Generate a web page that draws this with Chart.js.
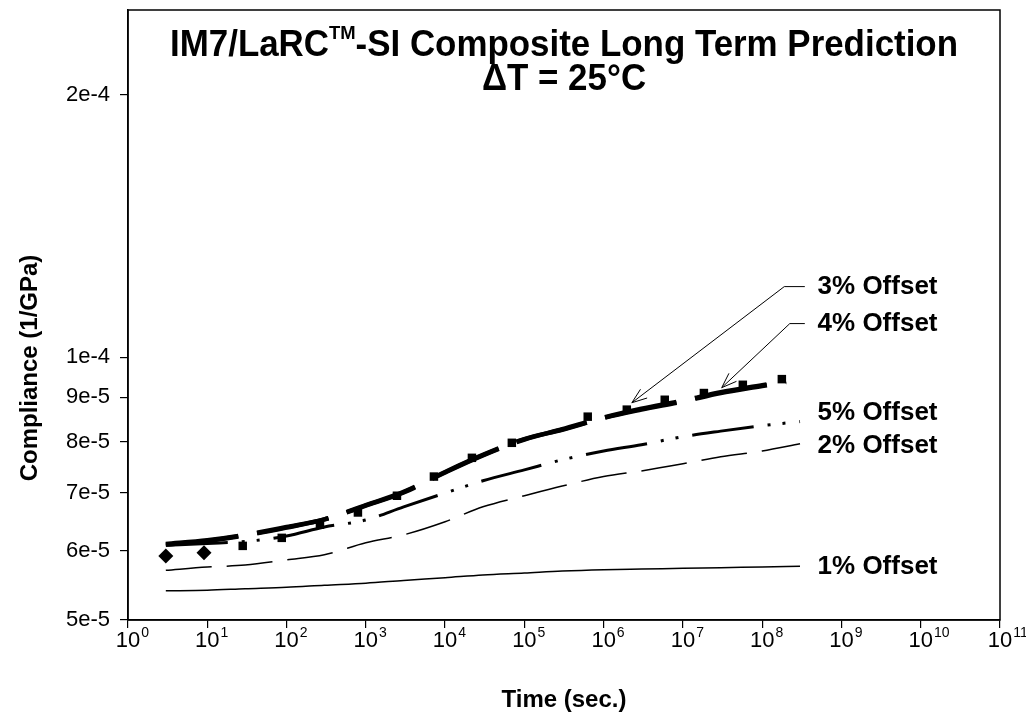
<!DOCTYPE html>
<html>
<head>
<meta charset="utf-8">
<script src="https://cdn.jsdelivr.net/npm/chart.js@4.4.1/dist/chart.umd.min.js"></script>
<style>
  html, body { margin: 0; padding: 0; background: #fff; }
</style>
</head>
<body>
<canvas id="c" width="1026" height="718"></canvas>
<script>
// values are in units of 1e-5 1/GPa
const UNIT = 1e-5;
const times = [3, 10, 30, 100, 300, 1e3, 3e3, 1e4, 3e4, 1e5, 3e5, 1e6, 3e6, 1e7, 3e7, 1e8, 3e8];
const times34 = [3, 10, 30, 100, 300, 1e3, 3e3, 1e4, 3e4, 1e5, 3e5, 1e6, 3e6, 1e7, 3e7, 1e8, 2e8];
const offset1 = [5.40, 5.41, 5.43, 5.45, 5.48, 5.51, 5.55, 5.59, 5.63, 5.66, 5.69, 5.71, 5.72, 5.73, 5.74, 5.75, 5.76];
const offset2 = [5.70, 5.75, 5.78, 5.86, 5.94, 6.13, 6.26, 6.48, 6.74, 6.94, 7.12, 7.30, 7.41, 7.55, 7.69, 7.81, 7.96];
const offset3 = [6.11, 6.17, 6.26, 6.39, 6.52, 6.77, 7.01, 7.39, 7.73, 8.06, 8.26, 8.52, 8.71, 8.90, 9.10, 9.27, 9.37];
const offset4 = [6.10, 6.16, 6.25, 6.38, 6.52, 6.76, 7.00, 7.38, 7.72, 8.05, 8.27, 8.53, 8.73, 8.92, 9.12, 9.29, 9.39];
const offset5 = [6.09, 6.12, 6.15, 6.24, 6.39, 6.51, 6.74, 6.99, 7.22, 7.43, 7.63, 7.81, 7.94, 8.11, 8.23, 8.35, 8.44];

// test points (first two diamonds, rest squares)
const testTimes = [3.0, 9.1, 28, 87, 264, 795, 2470, 7230, 21800, 69500, 6.3e5, 1.96e6, 5.9e6, 1.84e7, 5.7e7, 1.77e8];
const testValues = [5.92, 5.97, 6.08, 6.21, 6.43, 6.64, 6.94, 7.30, 7.67, 7.98, 8.55, 8.71, 8.94, 9.10, 9.30, 9.44];

const xTicks = [1, 1e1, 1e2, 1e3, 1e4, 1e5, 1e6, 1e7, 1e8, 1e9, 1e10, 1e11];
const yTicks = [5e-5, 6e-5, 7e-5, 8e-5, 9e-5, 1e-4, 2e-4];
const yTickLabels = ['5e-5', '6e-5', '7e-5', '8e-5', '9e-5', '1e-4', '2e-4'];

const titleMain = 'IM7/LaRC';
const titleSup = 'TM';
const titleRest = '-SI Composite Long Term Prediction';
const titleLine2 = '\u0394T = 25\u00B0C';
const xTitle = 'Time (sec.)';
const yTitle = 'Compliance (1/GPa)';

const offsetLabels = ['3% Offset', '4% Offset', '5% Offset', '2% Offset', '1% Offset'];
const labelTime = 5e8;
const labelValues = [1.205e-4, 1.093e-4, 8.64e-5, 7.92e-5, 5.75e-5];

// leader arrows for 3% and 4% labels: [start, elbow, tip] as [time, value]
const leaders = [
  [[3.45e8, 1.205e-4], [1.9e8, 1.205e-4], [2.27e6, 8.87e-5]],
  [[3.45e8, 1.093e-4], [2.23e8, 1.093e-4], [3.09e7, 9.23e-5]],
];

const FONT = "'Liberation Sans', Arial, Helvetica, sans-serif";

function pts(xs, vs) {
  return xs.map((t, i) => ({ x: t, y: vs[i] * UNIT }));
}

function curve(label, xs, vs, width, dash) {
  return {
    label,
    data: pts(xs, vs),
    borderColor: '#000',
    borderWidth: width,
    borderDash: dash,
    borderCapStyle: 'butt',
    pointRadius: 0,
    cubicInterpolationMode: 'monotone',
    fill: false,
  };
}

const annotate = {
  id: 'annotate',
  afterDraw(chart) {
    const { ctx, chartArea: a, scales: { x, y } } = chart;
    ctx.save();
    ctx.strokeStyle = '#000';
    ctx.lineWidth = 1.5;
    ctx.strokeRect(a.left, a.top, a.right - a.left, a.bottom - a.top);
    ctx.fillStyle = '#000';
    const cx = (a.left + a.right) / 2;

    // title, condensed to the width of the original
    const big = 'bold 36px ' + FONT;
    const small = 'bold 19px ' + FONT;
    ctx.font = big;
    const w1 = ctx.measureText(titleMain).width;
    const w3 = ctx.measureText(titleRest).width;
    ctx.font = small;
    const w2 = ctx.measureText(titleSup).width;
    const sx = 788 / (w1 + w2 + w3);
    ctx.save();
    ctx.translate(cx - 394, 46);
    ctx.scale(sx, 1);
    ctx.textBaseline = 'middle';
    ctx.textAlign = 'left';
    ctx.font = big;
    ctx.fillText(titleMain, 0, 0);
    ctx.fillText(titleRest, w1 + w2, 0);
    ctx.font = small;
    ctx.fillText(titleSup, w1, -12);
    ctx.restore();
    ctx.save();
    ctx.translate(cx, 80);
    ctx.scale(sx, 1);
    ctx.textAlign = 'center';
    ctx.textBaseline = 'middle';
    ctx.font = big;
    ctx.fillText(titleLine2, 0, 0);
    ctx.restore();

    // axis titles
    ctx.textAlign = 'center';
    ctx.textBaseline = 'middle';
    ctx.font = 'bold 24px ' + FONT;
    ctx.fillText(xTitle, cx, 700);
    ctx.save();
    ctx.translate(30, 368);
    ctx.rotate(-Math.PI / 2);
    ctx.fillText(yTitle, 0, 0);
    ctx.restore();

    // x tick labels: 10 with superscript exponent
    xTicks.forEach(v => {
      const px = x.getPixelForValue(v);
      const exp = String(Math.round(Math.log10(v)));
      ctx.font = '22px ' + FONT;
      ctx.textAlign = 'center';
      ctx.fillText('10', px, 641);
      const hw = ctx.measureText('10').width / 2;
      ctx.font = '14px ' + FONT;
      ctx.textAlign = 'left';
      ctx.fillText(exp, px + hw + 1, 633);
    });

    // curve labels
    ctx.textAlign = 'left';
    ctx.font = 'bold 26px ' + FONT;
    const lx = x.getPixelForValue(labelTime);
    offsetLabels.forEach((txt, i) => {
      ctx.fillText(txt, lx, y.getPixelForValue(labelValues[i]));
    });

    // leaders with open arrowheads
    ctx.lineWidth = 1;
    leaders.forEach(l => {
      const p = l.map(([t, v]) => [x.getPixelForValue(t), y.getPixelForValue(v)]);
      ctx.beginPath();
      ctx.moveTo(p[0][0], p[0][1]);
      ctx.lineTo(p[1][0], p[1][1]);
      ctx.lineTo(p[2][0], p[2][1]);
      ctx.stroke();
      const ang = Math.atan2(p[1][1] - p[2][1], p[1][0] - p[2][0]);
      ctx.beginPath();
      [-0.35, 0.35].forEach(d => {
        ctx.moveTo(p[2][0], p[2][1]);
        ctx.lineTo(p[2][0] + 16 * Math.cos(ang + d), p[2][1] + 16 * Math.sin(ang + d));
      });
      ctx.stroke();
    });
    ctx.restore();
  },
};

const ctx = document.getElementById('c').getContext('2d');

new Chart(ctx, {
  type: 'line',
  data: {
    datasets: [
      {
        label: 'Test data',
        data: pts(testTimes, testValues),
        showLine: false,
        pointStyle: testTimes.map((t, i) => (i < 2 ? 'rectRot' : 'rect')),
        pointRadius: testTimes.map((t, i) => (i < 2 ? 7.5 : 6)),
        backgroundColor: '#000',
        borderColor: '#000',
        borderWidth: 0,
      },
      curve('4% Offset', times34, offset4, 4.5, [73, 19]),
      curve('3% Offset', times34, offset3, 4.5, [73, 19]),
      curve('5% Offset', times, offset5, 3, [62, 14, 3, 12, 3, 14]),
      curve('2% Offset', times, offset2, 1.5, [46, 15]),
      curve('1% Offset', times, offset1, 1.5, []),
    ],
  },
  options: {
    responsive: false,
    animation: false,
    layout: { padding: { top: 10, right: 26, left: 0, bottom: 0 } },
    plugins: {
      legend: { display: false },
      tooltip: { enabled: false },
    },
    scales: {
      x: {
        type: 'logarithmic',
        min: 1,
        max: 1e11,
        afterBuildTicks: s => { s.ticks = xTicks.map(v => ({ value: v })); },
        afterFit: s => { s.height = 98; s.paddingLeft = 0; s.paddingRight = 0; },
        ticks: { display: false },
        grid: { drawOnChartArea: false, tickLength: 8, color: '#000', lineWidth: 1.2 },
        border: { color: '#000', width: 1.5 },
      },
      y: {
        type: 'logarithmic',
        min: 5e-5,
        max: 2.5e-4,
        afterBuildTicks: s => { s.ticks = yTicks.map(v => ({ value: v })); },
        afterFit: s => { s.width = 128; s.paddingTop = 0; s.paddingBottom = 0; },
        ticks: {
          autoSkip: false,
          padding: 10,
          color: '#000',
          font: { family: FONT, size: 22 },
          callback: v => yTickLabels[yTicks.indexOf(v)],
        },
        grid: { drawOnChartArea: false, tickLength: 8, color: '#000', lineWidth: 1.2 },
        border: { color: '#000', width: 1.5 },
      },
    },
  },
  plugins: [annotate],
});
</script>
</body>
</html>
